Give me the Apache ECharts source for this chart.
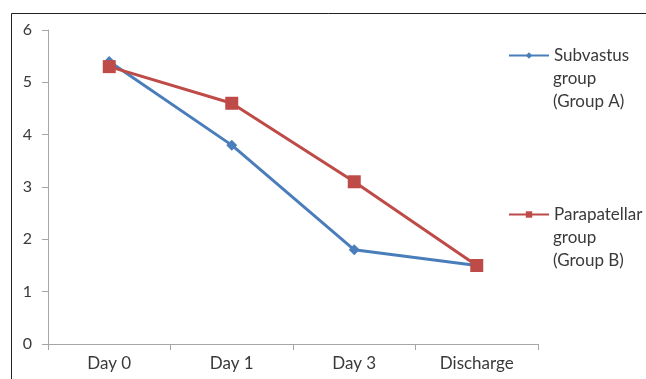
<!DOCTYPE html>
<html>
<head>
<meta charset="utf-8">
<script src="https://cdn.jsdelivr.net/npm/echarts@6/dist/echarts.min.js"></script>
<style>html,body{margin:0;padding:0;background:#fff}#c{width:646px;height:379px}</style>
</head>
<body>
<div id="c"></div>
<script>
const categories = ['Day 0', 'Day 1', 'Day 3', 'Discharge'];
const subvastus = [5.4, 3.8, 1.8, 1.5];
const parapatellar = [5.3, 4.6, 3.1, 1.5];
const yTicks = [0, 1, 2, 3, 4, 5, 6];
const nameA = 'Subvastus group (Group A)';
const nameB = 'Parapatellar group (Group B)';

const FONT = 'Lato';
const TXT = '#3a3a3a';
const chart = echarts.init(document.getElementById('c'), null, {renderer: 'canvas'});
chart.setOption({
  animation: false,
  backgroundColor: '#fff',
  textStyle: {fontFamily: FONT},
  grid: {left: 48, right: 108, top: 30, bottom: 35, containLabel: false},
  graphic: [
    {type: 'polyline', shape: {points: [[11.5, 379], [11.5, 13.5], [646, 13.5]]}, style: {stroke: '#222', lineWidth: 1, fill: null}},
    {type: 'text', left: 553, top: 67, style: {text: 'group\n(Group A)', font: '17px Lato', fill: TXT, lineHeight: 23}},
    {type: 'text', left: 553, top: 226, style: {text: 'group\n(Group B)', font: '17px Lato', fill: TXT, lineHeight: 23}}
  ],
  legend: [
    {data: [nameA], left: 503, top: 39, padding: 5, orient: 'vertical', itemWidth: 40, itemHeight: 8, itemGap: 0,
     formatter: () => 'Subvastus', textStyle: {fontSize: 17, color: TXT, fontFamily: FONT, lineHeight: 23}},
    {data: [nameB], left: 503, top: 198, padding: 5, orient: 'vertical', itemWidth: 40, itemHeight: 8, itemGap: 0,
     formatter: () => 'Parapatellar', textStyle: {fontSize: 17, color: TXT, fontFamily: FONT, lineHeight: 23}}
  ],
  xAxis: {
    type: 'category', data: categories, boundaryGap: true,
    axisLine: {lineStyle: {color: '#a6a6a6', width: 1}},
    axisTick: {show: true, length: 6, alignWithLabel: false, lineStyle: {color: '#a6a6a6'}},
    axisLabel: {color: TXT, fontSize: 17, margin: 11, fontFamily: FONT}
  },
  yAxis: {
    type: 'value', min: 0, max: 6, interval: 1,
    axisLine: {show: true, lineStyle: {color: '#a6a6a6', width: 1}},
    axisTick: {show: true, length: 6, lineStyle: {color: '#a6a6a6'}},
    splitLine: {show: false},
    axisLabel: {color: TXT, fontSize: 16, margin: 16, fontFamily: FONT,
      formatter: v => yTicks.includes(v) ? String(v) : ''}
  },
  series: [
    {name: nameA, type: 'line', data: subvastus, symbol: 'diamond', symbolSize: 11,
     lineStyle: {color: '#4a7ebb', width: 3}, itemStyle: {color: '#4a7ebb'}},
    {name: nameB, type: 'line', data: parapatellar, symbol: 'rect', symbolSize: 13,
     lineStyle: {color: '#be4b48', width: 3}, itemStyle: {color: '#be4b48'}}
  ]
});
</script>
</body>
</html>
